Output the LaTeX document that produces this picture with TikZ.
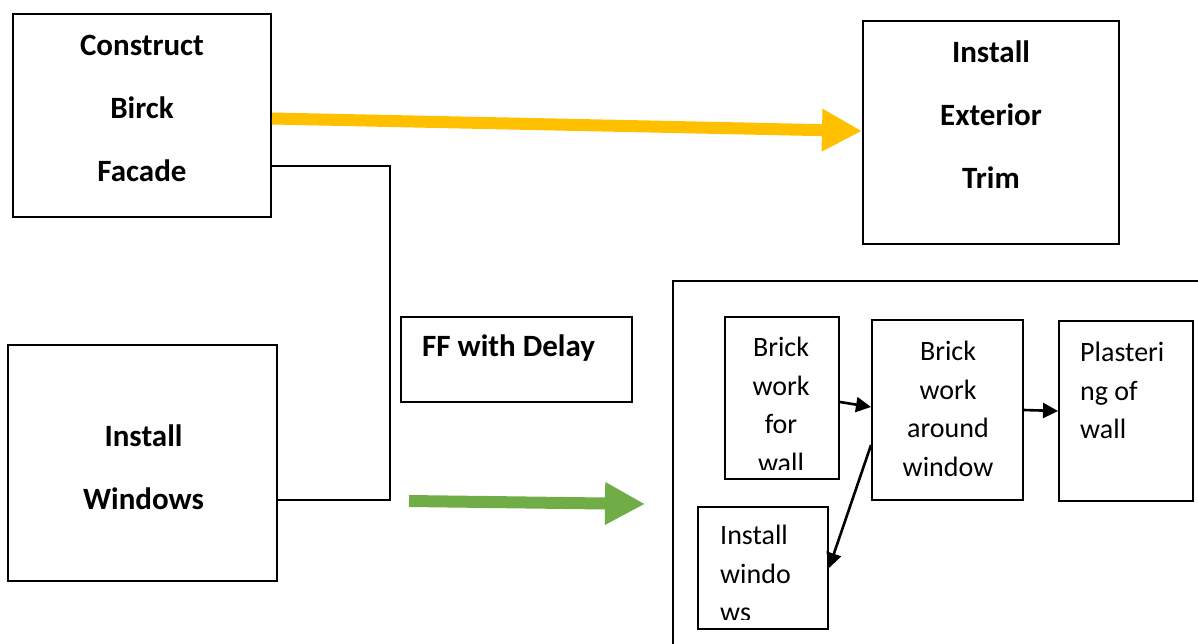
\documentclass[tikz,border=0pt]{standalone}
\usepackage{fontspec}
\setmainfont{Carlito}
\usetikzlibrary{positioning,arrows.meta}
\definecolor{ambar}{HTML}{FFC000}
\definecolor{leafgreen}{HTML}{70AD47}

\begin{document}
\begin{tikzpicture}[x=1pt,y=-1pt,
	box/.style={draw,line width=2pt,inner sep=0pt},
	boldtext/.style={inner sep=0pt,align=center,font=\bfseries\fontsize{31}{63}\selectfont},
	plaintext/.style={inner sep=0pt,font=\fontsize{28}{38.5}\selectfont},
	fatarrow/.style={line width=12pt,-{Triangle[length=40pt,width=40pt]}},
	thinarrow/.style={line width=2.6pt,-{Triangle[length=15pt,width=15pt]}},
	link/.style={line width=2pt}]

	\useasboundingbox (0,0) rectangle (1198,643);

	\node[box,minimum width=258,minimum height=203] (facade) at (142,115.5) {};
	\node[box,minimum width=256,minimum height=223] (trim) at (991,132.5) {};
	\node[box,minimum width=269,minimum height=236] (windows) at (142.5,463) {};
	\node[box,minimum width=231,minimum height=85] (delay) at (516.5,359.5) {};

	\node[box,minimum width=567,minimum height=419] (group) at (956.5,490.5) {};
	\node[box,minimum width=114,minimum height=162] (brickwall) at (782,398) {};
	\node[box,minimum width=151,minimum height=180] (around) at (947.5,410) {};
	\node[box,minimum width=134,minimum height=180] (plaster) at (1126,411) {};
	\node[box,minimum width=130,minimum height=122] (instw) at (763,568) {};

	\node[boldtext,anchor=north] (facadetxt) at (142,35) {Construct\\Birck\\Facade};
	\node[boldtext,anchor=north] (trimtxt) at (991,41) {Install\\Exterior\\Trim};
	\node[boldtext,anchor=north] (windowstxt) at (143.5,425) {Install\\Windows};
	\node[boldtext,anchor=north west] (delaytxt) at (422,335) {FF with Delay};

	\begin{scope}
		\clip (brickwall.north west) rectangle ([yshift=11pt]brickwall.south east);
		\node[plaintext,align=center,anchor=north] (brickwalltxt) at (781,337) {Brick\\work\\for\\wall};
	\end{scope}
	\node[plaintext,align=center,anchor=north] (aroundtxt) at (948,341) {Brick\\work\\around\\window};
	\node[plaintext,align=left,anchor=north west] (plastertxt) at (1080,342) {Plasteri\\ng of\\wall};
	\begin{scope}
		\clip (instw.north west) rectangle ([yshift=11pt]instw.south east);
		\node[plaintext,align=left,anchor=north west] (instwtxt) at (720,525) {Install\\windo\\ws};
	\end{scope}

	\coordinate (topbend) at (390,166);
	\coordinate (lowbend) at (390,500);
	\draw[link] (facade.east |- topbend) -- (topbend) -- (lowbend) -- (windows.east |- lowbend);

	\draw[fatarrow,ambar] ([yshift=-3pt]facade.east) -- ([yshift=1.5pt]trim.west);

	\coordinate (gstart) at (409,501);
	\coordinate (gend) at (645,504);
	\draw[fatarrow,leafgreen] (gstart) -- (gend);

	\draw[thinarrow] ([yshift=-4pt]brickwall.east) -- ([yshift=3pt]around.west);
	\draw[thinarrow] (around.east) -- (plaster.west);
	\draw[thinarrow] ([yshift=-35pt]around.west) -- (instw.east);
\end{tikzpicture}
\end{document}
